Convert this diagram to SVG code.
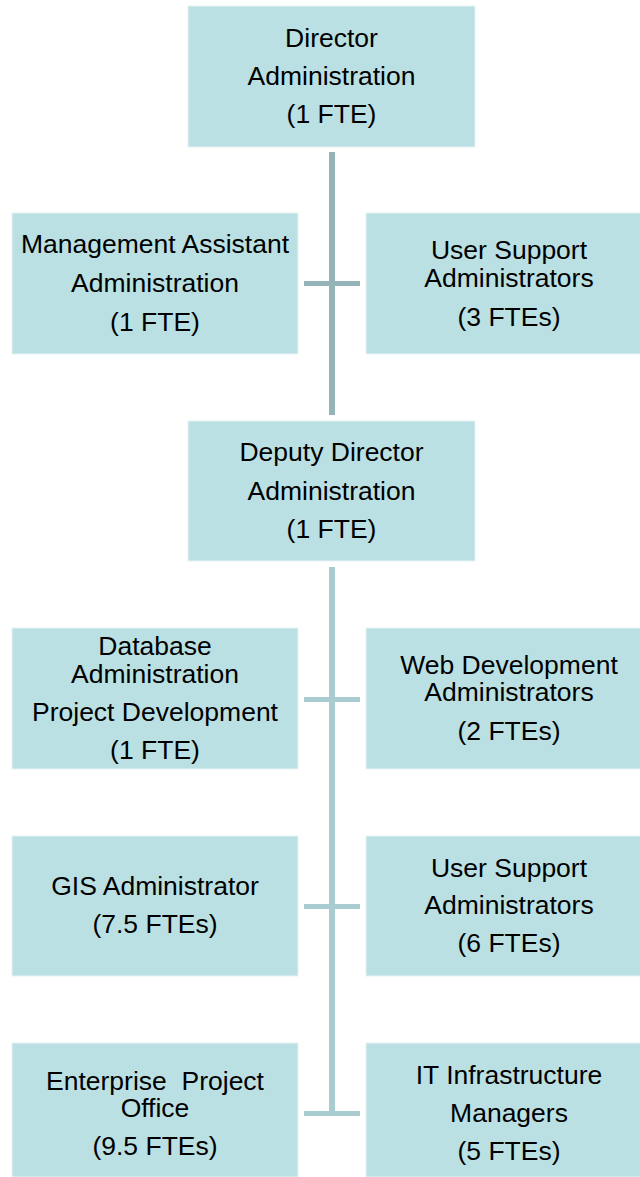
<svg xmlns="http://www.w3.org/2000/svg" width="640" height="1177" viewBox="0 0 640 1177">
<style>
.box{fill:#BBE0E3;stroke:#E6F3F4;stroke-width:1}
.t{font-family:"Liberation Sans",Arial,sans-serif;font-size:26.5px;fill:#000;text-anchor:middle}
.up{fill:#95B4B8}
.lo{fill:#A9CCD0}
</style>
<rect width="640" height="1177" fill="#fff"/>
<g id="connectors">
<rect class="up" x="329" y="152" width="6" height="263"/>
<rect class="up" x="304" y="281" width="56" height="5"/>
<rect class="lo" x="329" y="567" width="6" height="549"/>
<rect class="lo" x="304" y="697" width="56" height="5"/>
<rect class="lo" x="304" y="904" width="56" height="5"/>
<rect class="lo" x="304" y="1111" width="56" height="5"/>
</g>
<g id="director">
<rect class="box" x="188" y="6" width="287" height="141"/>
<text class="t" x="331.5" y="47">Director</text>
<text class="t" x="331.5" y="85">Administration</text>
<text class="t" x="331.5" y="123">(1 FTE)</text>
</g>
<g id="mgmt-assistant">
<rect class="box" x="12" y="213" width="286" height="141"/>
<text class="t" x="155" y="253">Management Assistant</text>
<text class="t" x="155" y="292">Administration</text>
<text class="t" x="155" y="331">(1 FTE)</text>
</g>
<g id="user-support-1">
<rect class="box" x="366" y="213" width="286" height="141"/>
<text class="t" x="509" y="259">User Support</text>
<text class="t" x="509" y="287">Administrators</text>
<text class="t" x="509" y="326">(3 FTEs)</text>
</g>
<g id="deputy-director">
<rect class="box" x="188" y="421" width="287" height="140"/>
<text class="t" x="331.5" y="461">Deputy Director</text>
<text class="t" x="331.5" y="500">Administration</text>
<text class="t" x="331.5" y="538">(1 FTE)</text>
</g>
<g id="database">
<rect class="box" x="12" y="628" width="286" height="141"/>
<text class="t" x="155" y="655">Database</text>
<text class="t" x="155" y="683">Administration</text>
<text class="t" x="155" y="721">Project Development</text>
<text class="t" x="155" y="759">(1 FTE)</text>
</g>
<g id="web-dev">
<rect class="box" x="366" y="628" width="286" height="141"/>
<text class="t" x="509" y="674">Web Development</text>
<text class="t" x="509" y="701">Administrators</text>
<text class="t" x="509" y="740">(2 FTEs)</text>
</g>
<g id="gis">
<rect class="box" x="12" y="836" width="286" height="140"/>
<text class="t" x="155" y="895">GIS Administrator</text>
<text class="t" x="155" y="933">(7.5 FTEs)</text>
</g>
<g id="user-support-2">
<rect class="box" x="366" y="836" width="286" height="140"/>
<text class="t" x="509" y="877">User Support</text>
<text class="t" x="509" y="914">Administrators</text>
<text class="t" x="509" y="952">(6 FTEs)</text>
</g>
<g id="epo">
<rect class="box" x="12" y="1043" width="286" height="134"/>
<text class="t" x="155" y="1090" xml:space="preserve">Enterprise  Project</text>
<text class="t" x="155" y="1117">Office</text>
<text class="t" x="155" y="1155">(9.5 FTEs)</text>
</g>
<g id="it-infra">
<rect class="box" x="366" y="1043" width="286" height="134"/>
<text class="t" x="509" y="1084">IT Infrastructure</text>
<text class="t" x="509" y="1122">Managers</text>
<text class="t" x="509" y="1160">(5 FTEs)</text>
</g>
</svg>
